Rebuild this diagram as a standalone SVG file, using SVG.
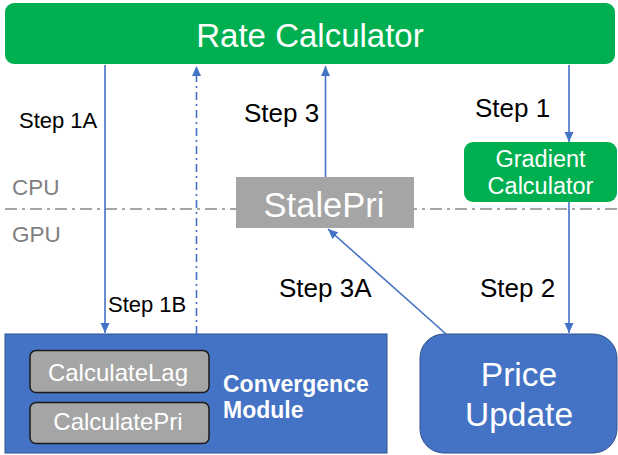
<svg xmlns="http://www.w3.org/2000/svg" width="618" height="455" viewBox="0 0 618 455">
<style>
text{font-family:"Liberation Sans",Arial,sans-serif}
.w{fill:#fff}
.lbl{fill:#000}
.big{font-size:26px}
.sm{font-size:22px}
.lane{fill:#7f7f7f;font-size:22.5px}
.c{stroke:#4472C4;stroke-width:1.6;fill:none}
</style>
<defs>
<marker id="ah" viewBox="0 0 10 10" refX="10" refY="5" markerWidth="10" markerHeight="10" orient="auto" markerUnits="userSpaceOnUse">
<path d="M0,0.5 L10,5 L0,9.5 z" fill="#4472C4"/>
</marker>
</defs>
<rect width="618" height="455" fill="#fff"/>
<line x1="5" y1="209" x2="618" y2="209" stroke="#a6a6a6" stroke-width="2" stroke-dasharray="12,5,3,5"/>
<text class="lane" x="12" y="195">CPU</text>
<text class="lane" x="12" y="242">GPU</text>
<g id="rate-calculator">
<rect x="5" y="3" width="610" height="61" rx="9" fill="#00B050"/>
<text class="w" x="310" y="47" font-size="33" text-anchor="middle">Rate Calculator</text>
</g>
<g id="gradient-calculator">
<rect x="464" y="142" width="153" height="60" rx="9" fill="#00B050"/>
<text class="w" x="540.5" y="166.5" font-size="23.5" text-anchor="middle">Gradient</text>
<text class="w" x="540.5" y="194" font-size="23.5" text-anchor="middle">Calculator</text>
</g>
<g id="stalepri">
<rect x="236" y="177" width="178" height="51" fill="#A5A5A5"/>
<text class="w" x="324" y="216.5" font-size="34.5" text-anchor="middle">StalePri</text>
</g>
<g id="convergence-module">
<rect x="5" y="334" width="382" height="119" fill="#4472C4" stroke="#2F528F" stroke-width="1"/>
<rect x="30" y="350.5" width="179" height="42" rx="6" fill="#A5A5A5" stroke="#1a1a1a" stroke-width="1.5"/>
<text class="w" x="118" y="381" font-size="24" text-anchor="middle">CalculateLag</text>
<rect x="30" y="402.5" width="179" height="41" rx="6" fill="#A5A5A5" stroke="#1a1a1a" stroke-width="1.5"/>
<text class="w" x="118" y="430" font-size="24" text-anchor="middle">CalculatePri</text>
<text class="w" x="223" y="391.5" font-size="23" font-weight="bold">Convergence</text>
<text class="w" x="223" y="418" font-size="23" font-weight="bold">Module</text>
</g>
<g id="price-update">
<rect x="420" y="334" width="197" height="119" rx="24" fill="#4472C4" stroke="#2F528F" stroke-width="1"/>
<text class="w" x="519" y="386" font-size="33.5" text-anchor="middle">Price</text>
<text class="w" x="519" y="426" font-size="33.5" text-anchor="middle">Update</text>
</g>
<g id="connectors">
<line class="c" x1="105" y1="65" x2="105" y2="333" marker-end="url(#ah)"/>
<line class="c" x1="196.5" y1="334" x2="196.5" y2="66" stroke-dasharray="8,4,2,4" marker-end="url(#ah)"/>
<line class="c" x1="325.5" y1="177" x2="325.5" y2="66" marker-end="url(#ah)"/>
<line class="c" x1="569" y1="65" x2="569" y2="142" marker-end="url(#ah)"/>
<line class="c" x1="569" y1="202" x2="569" y2="333" marker-end="url(#ah)"/>
<line class="c" x1="446" y1="334" x2="328" y2="229" marker-end="url(#ah)"/>
</g>
<g id="labels">
<text class="lbl sm" x="19" y="128">Step 1A</text>
<text class="lbl big" x="244" y="121.5">Step 3</text>
<text class="lbl big" x="475" y="116.5">Step 1</text>
<text class="lbl sm" x="108" y="311.5">Step 1B</text>
<text class="lbl big" x="279" y="297">Step 3A</text>
<text class="lbl big" x="480" y="297">Step 2</text>
</g>
</svg>
